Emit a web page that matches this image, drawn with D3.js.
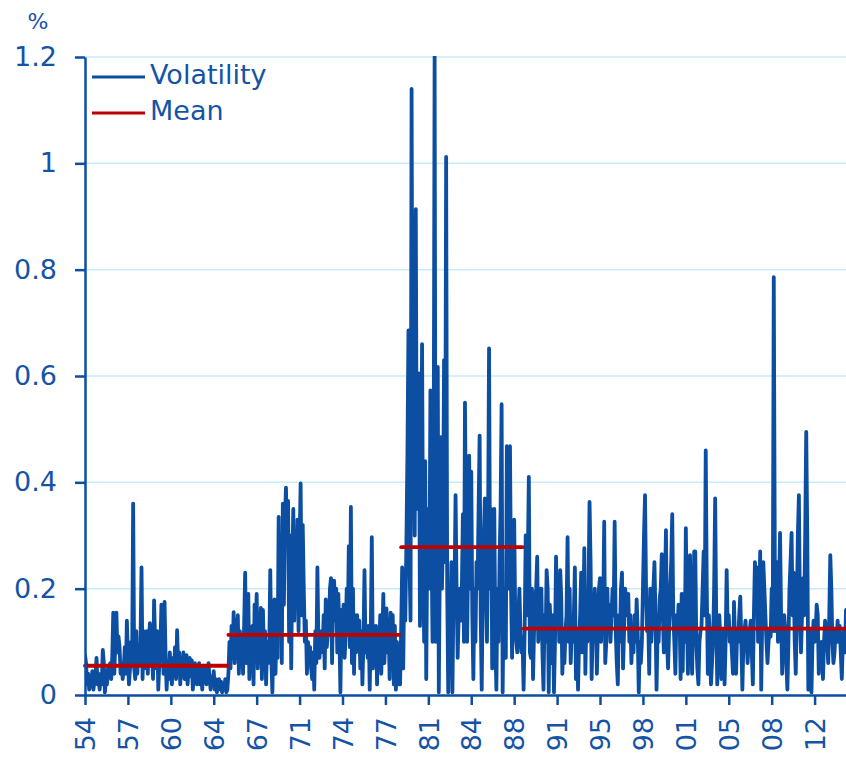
<!DOCTYPE html>
<html>
<head>
<meta charset="utf-8">
<script src="https://cdn.jsdelivr.net/npm/d3@7"></script>
<style>
  body { margin: 0; background: #fff; }
  svg { display: block; font-family: "DejaVu Sans", sans-serif; }
</style>
</head>
<body>
<div id="viz"></div>
<script>
// monthly volatility (%), Jan 1954 onwards, split by regime
const vol1954_65 = [
  0.075,0.06,0.02,0.04,0.01,0.03,0.02,0.045,0.01,0.025,0.035,0.07,
  0.02,0.03,0.01,0.04,0.02,0.085,0.06,0.005,0.03,0.02,0.05,0.04,
  0.06,0.03,0.07,0.155,0.04,0.1,0.155,0.08,0.11,0.09,0.04,0.06,
  0.03,0.05,0.09,0.04,0.14,0.07,0.02,0.05,0.1,0.06,0.36,0.05,
  0.03,0.12,0.04,0.09,0.06,0.1,0.24,0.03,0.12,0.05,0.09,0.12,
  0.04,0.1,0.135,0.06,0.08,0.03,0.178,0.1,0.05,0.12,0.01,0.06,
  0.09,0.17,0.12,0.04,0.175,0.07,0.01,0.06,0.03,0.08,0.05,0.02,
  0.07,0.04,0.09,0.03,0.122,0.05,0.08,0.02,0.07,0.045,0.08,0.03,
  0.06,0.075,0.02,0.05,0.07,0.035,0.065,0.01,0.04,0.06,0.03,0.02,
  0.05,0.06,0.02,0.04,0.01,0.055,0.03,0.05,0.02,0.04,0.06,0.03,
  0.01,0.035,0.02,0.045,0.01,0.03,0.005,0.02,0.03,0.01,0.025,0.005,
  0.02,0.01,0.03,0.005,0.01
];
const vol1965_78 = [
  0.04,0.10,0.05,0.13,0.07,0.156,0.06,
  0.14,0.09,0.15,0.04,0.12,0.07,0.10,0.04,0.13,0.23,0.06,0.14,
  0.19,0.03,0.11,0.08,0.13,0.02,0.17,0.09,0.19,0.05,0.12,0.08,
  0.164,0.03,0.16,0.07,0.12,0.02,0.10,0.06,0.09,0.235,0.07,0.005,
  0.10,0.18,0.04,0.14,0.07,0.335,0.12,0.30,0.06,0.36,0.17,0.33,
  0.39,0.28,0.365,0.10,0.30,0.05,0.25,0.35,0.14,0.28,0.22,0.33,
  0.12,0.28,0.398,0.15,0.32,0.20,0.10,0.14,0.04,0.10,0.08,0.09,
  0.05,0.03,0.08,0.01,0.12,0.06,0.24,0.10,0.07,0.11,0.12,0.08,
  0.15,0.05,0.18,0.09,0.12,0.13,0.20,0.22,0.06,0.17,0.215,0.14,
  0.20,0.08,0.19,0.12,0.005,0.16,0.10,0.17,0.07,0.11,0.2,0.12,
  0.28,0.09,0.354,0.06,0.2,0.04,0.15,0.08,0.15,0.10,0.14,0.05,
  0.12,0.02,0.10,0.235,0.08,0.13,0.07,0.13,0.01,0.12,0.297,0.05,
  0.13,0.09,0.13,0.02,0.11,0.07,0.15,0.04,0.10,0.19,0.06,0.12,
  0.163,0.08,0.14,0.03,0.155,0.06,0.15,0.02,0.13,0.01,0.10,0.05,
  0.02
];
const vol1979_88 = [
  0.02,0.12,0.24,0.05,0.22,0.14,0.28,0.45,0.686,0.25,
  0.14,1.14,0.42,0.5,0.3,0.914,0.35,0.48,0.605,0.13,
  0.35,0.66,0.25,0.1,0.44,0.03,0.3,0.35,0.2,0.573,
  0.3,0.1,0.35,1.2,0.1,0.4,0.617,0.005,0.25,0.485,
  0.2,0.3,0.63,0.25,1.012,0.2,0.005,0.15,0.14,0.25,
  0.005,0.18,0.2,0.376,0.2,0.07,0.15,0.2,0.14,0.2,
  0.34,0.1,0.55,0.3,0.1,0.25,0.45,0.2,0.42,0.15,
  0.03,0.2,0.1,0.25,0.2,0.35,0.488,0.15,0.01,0.2,
  0.3,0.37,0.2,0.1,0.3,0.652,0.2,0.35,0.05,0.2,
  0.35,0.1,0.01,0.2,0.1,0.25,0.35,0.547,0.005,0.2,
  0.12,0.07,0.468,0.3,0.2,0.468,0.2,0.07,0.2,0.33,
  0.15,0.1,0.08,0.15,0.2,0.12,0.08,0.1,0.01
];
const vol1988_14 = [
  0.12,0.3,0.15,0.25,0.41,0.08,0.07,0.2,0.03,0.12,
  0.18,0.2,0.26,0.1,0.14,0.2,0.2,0.08,0.01,0.15,
  0.1,0.235,0.2,0.005,0.17,0.12,0.06,0.15,0.005,0.1,
  0.26,0.15,0.22,0.1,0.235,0.18,0.04,0.1,0.06,0.12,
  0.15,0.297,0.1,0.2,0.06,0.12,0.1,0.15,0.24,0.03,
  0.12,0.01,0.1,0.15,0.23,0.08,0.15,0.276,0.04,0.15,
  0.1,0.2,0.363,0.25,0.03,0.12,0.1,0.2,0.15,0.04,
  0.12,0.2,0.22,0.1,0.2,0.15,0.326,0.06,0.1,0.2,
  0.12,0.17,0.1,0.15,0.2,0.15,0.326,0.12,0.06,0.02,
  0.15,0.1,0.2,0.23,0.05,0.12,0.2,0.18,0.15,0.19,
  0.1,0.15,0.06,0.12,0.08,0.15,0.1,0.18,0.12,0.005,
  0.1,0.06,0.1,0.2,0.3,0.376,0.2,0.12,0.15,0.04,
  0.2,0.1,0.15,0.2,0.25,0.15,0.01,0.12,0.1,0.18,
  0.2,0.265,0.15,0.08,0.2,0.31,0.1,0.05,0.12,0.2,
  0.25,0.34,0.15,0.1,0.04,0.15,0.12,0.17,0.15,0.03,
  0.19,0.045,0.19,0.1,0.314,0.15,0.04,0.2,0.263,0.1,
  0.04,0.15,0.27,0.27,0.1,0.05,0.02,0.1,0.12,0.13,
  0.2,0.27,0.15,0.46,0.2,0.04,0.15,0.1,0.02,0.06,
  0.1,0.2,0.37,0.15,0.02,0.1,0.15,0.1,0.03,0.1,
  0.12,0.02,0.1,0.235,0.12,0.15,0.1,0.12,0.08,0.04,
  0.175,0.1,0.04,0.12,0.1,0.15,0.185,0.1,0.01,0.1,
  0.12,0.14,0.1,0.06,0.1,0.12,0.14,0.08,0.02,0.15,
  0.25,0.2,0.24,0.1,0.15,0.27,0.01,0.15,0.25,0.2,
  0.15,0.1,0.06,0.1,0.12,0.11,0.2,0.12,0.786,0.25,
  0.12,0.25,0.1,0.2,0.305,0.15,0.04,0.1,0.15,0.12,
  0.06,0.01,0.1,0.2,0.25,0.305,0.15,0.23,0.1,0.04,
  0.15,0.3,0.376,0.15,0.08,0.15,0.22,0.15,0.3,0.495,
  0.3,0.01,0.1,0.12,0.005,0.1,0.14,0.1,0.12,0.17,
  0.15,0.04,0.1,0.08,0.1,0.03,0.1,0.14,0.12,0.1,
  0.06,0.15,0.263,0.2,0.1,0.06,0.08,0.12,0.1,0.14,
  0.1,0.13,0.08,0.03,0.1,0.12,0.08,0.16
];

// regime means (start / end month index, value)
const meanStart = [0, 137, 302, 419];
const meanEnd   = [136, 300, 418, 727];
const meanValue = [0.055, 0.113, 0.278, 0.125];

// axes
const xTickLabels = ["54","57","60","64","67","71","74","77","81","84","88","91","95","98","01","05","08","12"];
const xTickEvery = 41; // months between labels
const yTicks = [0, 0.2, 0.4, 0.6, 0.8, 1, 1.2];
const yTickLabels = ["0","0.2","0.4","0.6","0.8","1","1.2"];

const vol = [].concat(vol1954_65, vol1965_78, vol1979_88, vol1988_14);

const width = 846, height = 757;
const margin = {left: 85, right: 0, top: 57, bottom: 62};
const blue = "#0b4ea2", textBlue = "#1553a6", red = "#c00000", grid = "#c9ebf7";

const svg = d3.select("#viz").append("svg")
    .attr("width", width)
    .attr("height", height);

const x = d3.scaleLinear()
  .domain([0, vol.length - 1])
  .range([margin.left, width - margin.right]);
const y = d3.scaleLinear()
  .domain([0, 1.2])
  .range([height - margin.bottom, margin.top]);

// gridlines
svg.append("g")
  .selectAll("line")
  .data(yTicks.filter(d => d > 0))
  .join("line")
    .attr("x1", margin.left).attr("x2", width - margin.right)
    .attr("y1", d => y(d)).attr("y2", d => y(d))
    .attr("stroke", grid).attr("stroke-width", 1.5);

// volatility line (kept inside the plot area)
svg.append("clipPath").attr("id", "plot-clip")
  .append("rect")
    .attr("x", margin.left).attr("y", margin.top - 1)
    .attr("width", width - margin.left).attr("height", height - margin.bottom - margin.top + 3);
const line = d3.line()
  .x((d, i) => x(i))
  .y(d => y(d));
svg.append("path")
  .datum(vol)
  .attr("clip-path", "url(#plot-clip)")
  .attr("fill", "none")
  .attr("stroke", blue)
  .attr("stroke-width", 3.8)
  .attr("stroke-linejoin", "round")
  .attr("stroke-linecap", "round")
  .attr("d", line);

// mean segments
svg.append("g")
  .selectAll("line")
  .data(meanValue)
  .join("line")
    .attr("x1", (d, i) => x(meanStart[i]))
    .attr("x2", (d, i) => x(meanEnd[i]))
    .attr("y1", d => y(d)).attr("y2", d => y(d))
    .attr("stroke", red).attr("stroke-width", 3.8)
    .attr("stroke-linecap", "round");

// Y axis
const yAxisG = svg.append("g")
  .attr("transform", "translate(" + margin.left + ",0)")
  .call(d3.axisLeft(y)
    .tickValues(yTicks)
    .tickFormat((d, i) => yTickLabels[i])
    .tickSize(10)
    .tickSizeOuter(0)
    .tickPadding(18));

// X axis
const xAxisG = svg.append("g")
  .attr("transform", "translate(0," + y(0) + ")")
  .call(d3.axisBottom(x)
    .tickValues(d3.range(0, vol.length, xTickEvery))
    .tickFormat((d, i) => xTickLabels[i])
    .tickSize(10)
    .tickSizeOuter(0));
xAxisG.selectAll("text")
  .attr("y", 0)
  .attr("x", -22)
  .attr("dy", "0.36em")
  .attr("transform", "rotate(-90)")
  .style("text-anchor", "end");

[yAxisG, xAxisG].forEach(g => {
  g.select(".domain").attr("stroke", blue).attr("stroke-width", 2.5);
  g.selectAll(".tick line").attr("stroke", blue).attr("stroke-width", 2.5);
  g.selectAll("text")
    .attr("fill", textBlue)
    .style("font-family", "'DejaVu Sans', sans-serif")
    .style("font-size", "27px");
});

// unit label
svg.append("text")
  .attr("x", 38).attr("y", 29)
  .attr("text-anchor", "middle")
  .attr("fill", textBlue)
  .style("font-size", "22px")
  .text("%");

// legend
const legend = [
  {label: "Volatility", color: blue, y: 77},
  {label: "Mean", color: red, y: 113}
];
const lg = svg.append("g");
legend.forEach(d => {
  lg.append("line")
    .attr("x1", 92).attr("x2", 145)
    .attr("y1", d.y).attr("y2", d.y)
    .attr("stroke", d.color).attr("stroke-width", 3.2);
  lg.append("text")
    .attr("x", 150).attr("y", d.y + 7)
    .attr("fill", textBlue)
    .style("font-size", "27px")
    .text(d.label);
});
</script>
</body>
</html>
